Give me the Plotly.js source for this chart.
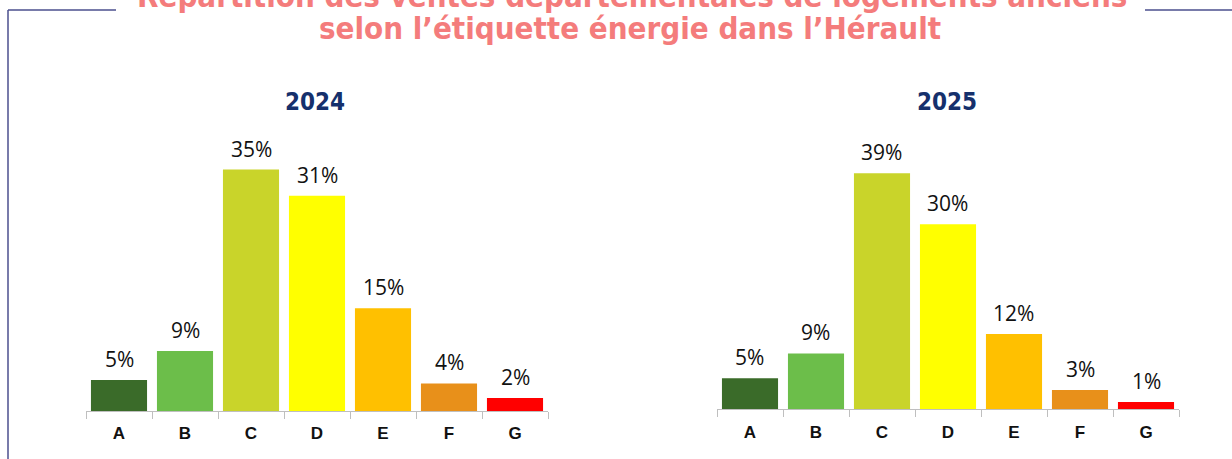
<!DOCTYPE html>
<html>
<head>
<meta charset="utf-8">
<script src="https://cdn.plot.ly/plotly-3.0.1.min.js"></script>
<style>html,body{margin:0;padding:0;background:#fff;}#chart{width:1232px;height:459px;}</style>
</head>
<body>
<div id="chart"></div>
<script>
// ---- data ----
const categories = ["A", "B", "C", "D", "E", "F", "G"];
const values2024 = [4.5, 8.7, 35.0, 31.2, 14.9, 4.0, 1.9];
const labels2024 = ["5%", "9%", "35%", "31%", "15%", "4%", "2%"];
const values2025 = [5.1, 9.2, 38.9, 30.5, 12.4, 3.2, 1.2];
const labels2025 = ["5%", "9%", "39%", "30%", "12%", "3%", "1%"];
const yearTitles = ["2024", "2025"];
const titleLine1 = "Répartition des ventes départementales de logements anciens";
const titleLine2 = "selon l’étiquette énergie dans l’Hérault";

// ---- styles ----
const barColors = ["#3A6B29", "#6CBE4A", "#C9D42A", "#FFFF00", "#FFC000", "#E8901A", "#FF0000"];
const W = 1232, H = 459;
const px = x => x / W;
const py = y => 1 - y / H;

const traces = [
  {type: "bar", x: categories, y: values2024, xaxis: "x", yaxis: "y",
   marker: {color: barColors}, hoverinfo: "skip"},
  {type: "bar", x: categories, y: values2025, xaxis: "x2", yaxis: "y2",
   marker: {color: barColors}, hoverinfo: "skip"}
];

const labelFont = {family: "Open Sans, sans-serif", size: 21, color: "#111111"};
const annotations = [];
function addLabels(vals, labs, xr, yr) {
  vals.forEach((v, i) => {
    annotations.push({x: categories[i], y: v, xref: xr, yref: yr, text: labs[i],
      showarrow: false, xanchor: "center", yanchor: "bottom", yshift: 5, font: labelFont});
  });
}
addLabels(values2024, labels2024, "x", "y");
addLabels(values2025, labels2025, "x2", "y2");

const yearFont = {family: "DejaVu Sans Condensed, DejaVu Sans, sans-serif", size: 24, color: "#15306C"};
annotations.push({xref: "paper", yref: "paper", x: px(315), y: py(102), text: "<b>" + yearTitles[0] + "</b>", showarrow: false, xanchor: "center", yanchor: "middle", font: yearFont});
annotations.push({xref: "paper", yref: "paper", x: px(947), y: py(102), text: "<b>" + yearTitles[1] + "</b>", showarrow: false, xanchor: "center", yanchor: "middle", font: yearFont});

const titleFont = {family: "DejaVu Sans Condensed, DejaVu Sans, sans-serif", size: 31, color: "#F47C7C"};
annotations.push({xref: "paper", yref: "paper", x: px(632), y: py(-4), text: "<b>" + titleLine1 + "</b>", showarrow: false, xanchor: "center", yanchor: "middle", font: titleFont});
annotations.push({xref: "paper", yref: "paper", x: px(630), y: py(28), text: "<b>" + titleLine2 + "</b>", showarrow: false, xanchor: "center", yanchor: "middle", font: titleFont});

const xBase = {
  type: "category", showline: true, linecolor: "#BFBFBF", linewidth: 1,
  ticks: "outside", tickson: "boundaries", ticklen: 7, tickcolor: "#BFBFBF", tickwidth: 1,
  showgrid: false, zeroline: false, fixedrange: true, ticklabelstandoff: 7,
  tickfont: {family: "Liberation Sans, Arial, sans-serif", size: 17, color: "#111", weight: "bold"},
  range: [-0.5, 6.5]
};
const yBase = {visible: false, showgrid: false, zeroline: false, fixedrange: true};

const frameColor = "#4B4F8E";
const shapes = [
  {type: "line", xref: "paper", yref: "paper", x0: px(8), x1: px(116), y0: py(10), y1: py(10), line: {color: frameColor, width: 1.5}},
  {type: "line", xref: "paper", yref: "paper", x0: px(8), x1: px(8), y0: py(10), y1: py(470), line: {color: frameColor, width: 1.5}},
  {type: "line", xref: "paper", yref: "paper", x0: px(1145), x1: px(1240), y0: py(10), y1: py(10), line: {color: frameColor, width: 1.5}}
];

const layout = {
  width: W, height: H,
  margin: {l: 0, r: 0, t: 0, b: 0},
  paper_bgcolor: "#ffffff", plot_bgcolor: "rgba(0,0,0,0)",
  showlegend: false, bargap: 0.15,
  xaxis: Object.assign({}, xBase, {domain: [px(86), px(548)], anchor: "y"}),
  yaxis: Object.assign({}, yBase, {domain: [py(411), py(135)], range: [0, 40], anchor: "x"}),
  xaxis2: Object.assign({}, xBase, {domain: [px(717), px(1179)], anchor: "y2"}),
  yaxis2: Object.assign({}, yBase, {domain: [py(409.3), py(142.3)], range: [0, 44], anchor: "x2"}),
  annotations: annotations,
  shapes: shapes
};

Plotly.newPlot("chart", traces, layout, {displayModeBar: false, staticPlot: true});
</script>
</body>
</html>
